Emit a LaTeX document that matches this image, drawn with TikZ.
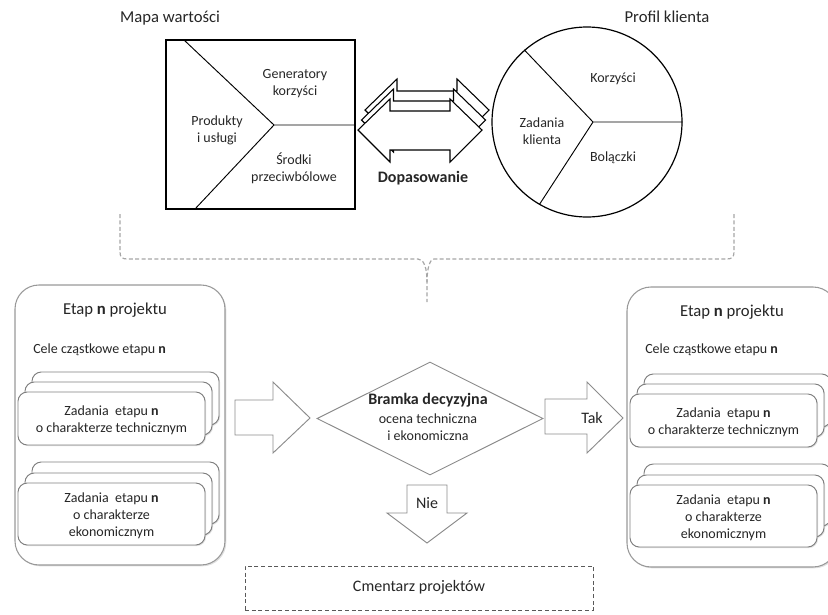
\documentclass[tikz,border=0pt]{standalone}
\usepackage{fontspec}
\setmainfont{Carlito}
\usetikzlibrary{shapes.geometric,shadows}
\tikzset{
  txt/.style={font=\fontsize{10.5}{12.6}\selectfont, align=center, text=black!85, inner sep=0pt},
  bigtxt/.style={font=\fontsize{12.5}{15}\selectfont, align=center, text=black!85, inner sep=0pt},
  bigbox/.style={draw=black!40, line width=0.8pt, fill=white, rounded corners=18pt,
     minimum width=157.5pt, minimum height=210pt, inner sep=0pt,
     drop shadow={shadow xshift=1pt, shadow yshift=-1pt, opacity=0.25}},
  card/.style={draw=black!50, line width=0.7pt, fill=white, rounded corners=7pt,
     minimum width=140.25pt, inner sep=0pt,
     drop shadow={shadow xshift=0.8pt, shadow yshift=-0.8pt, opacity=0.25}},
  blockarrow/.style={draw=black!45, line width=0.7pt, fill=white, line join=miter},
  dbl/.style={draw=black, line width=0.8pt, fill=white, line join=miter},
  brace/.style={draw=black!35, line width=0.9pt, dash pattern=on 3pt off 1.8pt},
  gate/.style={diamond, draw=black!45, line width=0.7pt, fill=white, inner sep=0pt,
     minimum width=169.5pt, minimum height=84.75pt},
  grave/.style={draw=black!65, line width=0.7pt, dash pattern=on 3pt off 2pt,
     minimum width=261pt, minimum height=33pt, inner sep=0pt}
}
\newcommand\myDblArrow[1]{%
  \draw[dbl,shift={(#1)}] (358,130) -- (390,99) -- (390,111) -- (450,111) -- (450,99)
     -- (482,130) -- (450,162) -- (450,150) -- (390,150) -- (390,162) -- cycle;}
\begin{document}
\begin{tikzpicture}[x=0.75pt,y=-0.75pt]
\useasboundingbox (0,0) rectangle (828,614);
\clip (0,0) rectangle (828,614);

% ---------- value map ----------
\node[bigtxt] (mapT) at (170,18) {Mapa wartości};
\node[draw=black, line width=0.9pt, minimum width=141.75pt, minimum height=126.75pt, inner sep=0pt] (R) at (260.5,124.5) {};
\coordinate (rc) at (274,125);
\draw[line width=0.7pt] (184,40) -- (rc) -- (R.east |- rc);
\draw[line width=0.7pt] (rc) -- (195,209);
\node[txt] (gen) at (295,83.5) {Generatory\\korzyści};
\node[txt] (prod) at (217,130.5) {Produkty\\i usługi};
\node[txt] (srod) at (294,168.5) {Środki\\przeciwbólowe};

% ---------- fit arrow ----------
\myDblArrow{7,-20}
\myDblArrow{3.5,-10}
\myDblArrow{0,0}
\node[font=\fontsize{12}{14}\selectfont\bfseries, text=black!85, inner sep=0pt] (fit) at (423,178) {Dopasowanie};

% ---------- customer profile ----------
\node[bigtxt] (profT) at (667,17) {Profil klienta};
\node[circle, draw=black, line width=0.9pt, minimum size=142.5pt, inner sep=0pt] (C) at (587,122) {};
\coordinate (cc) at (593,122);
\draw[line width=0.7pt] (C.131) -- (cc) -- (C.east);
\draw[line width=0.7pt] (cc) -- (C.240);
\node[txt] (korz) at (613,79) {Korzyści};
\node[txt] (zad) at (542,131) {Zadania\\klienta};
\node[txt] (bol) at (613,158) {Bolączki};

% ---------- dashed brace ----------
\draw[brace] (120,214) -- (120,252) .. controls (120,257) and (122,259) .. (127,259)
   -- (418,259) .. controls (424,259) and (427,268) .. (427,282) -- (427,302);
\draw[brace] (734,214) -- (734,252) .. controls (734,257) and (732,259) .. (727,259)
   -- (434,259) .. controls (430,259) and (427,268) .. (427,282);

% ---------- left stage ----------
\node[bigbox] (L) at (120,425) {};
\node[bigtxt] (Lt) at (115,310) {Etap \textbf{n} projektu};
\node[txt, anchor=west] (Lc) at (33,350) {Cele cząstkowe etapu \textbf{n}};
\node[card, minimum height=39.75pt] (LTb) at (125.5,398.5) {};
\node[card, minimum height=39.75pt] (LTm) at (118.5,408.5) {};
\node[card, minimum height=39.75pt] (LT) at (111.5,418.5) {};
\node[txt] (LTt) at (111.5,420) {Zadania\ \ etapu \textbf{n}\\o charakterze technicznym};
\node[card, minimum height=46.5pt] (LEb) at (125.5,493) {};
\node[card, minimum height=46.5pt] (LEm) at (118.5,504) {};
\node[card, minimum height=46.5pt] (LE) at (111.5,514) {};
\node[txt] (LEt) at (111.5,515.5) {Zadania\ \ etapu \textbf{n}\\o charakterze\\ekonomicznym};

% ---------- right stage ----------
\node[bigbox] (Rr) at (732,427) {};
\node[bigtxt] (Rt) at (732,312) {Etap \textbf{n} projektu};
\node[txt, anchor=west] (Rc) at (645,350) {Cele cząstkowe etapu \textbf{n}};
\node[card, minimum height=39.75pt] (RTb) at (737.5,400.5) {};
\node[card, minimum height=39.75pt] (RTm) at (730.5,410.5) {};
\node[card, minimum height=39.75pt] (RT) at (723.5,420.5) {};
\node[txt] (RTt) at (723.5,422) {Zadania\ \ etapu \textbf{n}\\o charakterze technicznym};
\node[card, minimum height=46.5pt] (REb) at (737.5,495) {};
\node[card, minimum height=46.5pt] (REm) at (730.5,506) {};
\node[card, minimum height=46.5pt] (RE) at (723.5,516) {};
\node[txt] (REt) at (723.5,517.5) {Zadania\ \ etapu \textbf{n}\\o charakterze\\ekonomicznym};

% ---------- decision gate ----------
\draw[blockarrow] (235,400) -- (273,400) -- (273,382) -- (310,418) -- (273,453) -- (273,435) -- (235,435) -- cycle;
\node[gate] (D) at (430,418.5) {};
\node[font=\fontsize{12}{14}\selectfont\bfseries, text=black!85, inner sep=0pt] (Dt) at (428,400) {Bramka decyzyjna};
\node[txt, align=center] (Ds) at (428,427) {ocena techniczna\\i ekonomiczna};

\draw[blockarrow] (545,399) -- (587,399) -- (587,382) -- (623,418) -- (587,453) -- (587,434) -- (545,434) -- cycle;
\node[font=\fontsize{12}{14}\selectfont, text=black!85, inner sep=0pt] (tak) at (592,418) {Tak};

\draw[blockarrow] (407,485) -- (447,485) -- (447,513) -- (467,513) -- (427,543) -- (387,513) -- (407,513) -- cycle;
\node[font=\fontsize{12}{14}\selectfont, text=black!85, inner sep=0pt] (nie) at (427,503) {Nie};

\node[grave] (G) at (419,588) {};
\node[font=\fontsize{12}{14}\selectfont, text=black!85, inner sep=0pt] (Gt) at (419,587) {Cmentarz projektów};
\end{tikzpicture}
\end{document}
